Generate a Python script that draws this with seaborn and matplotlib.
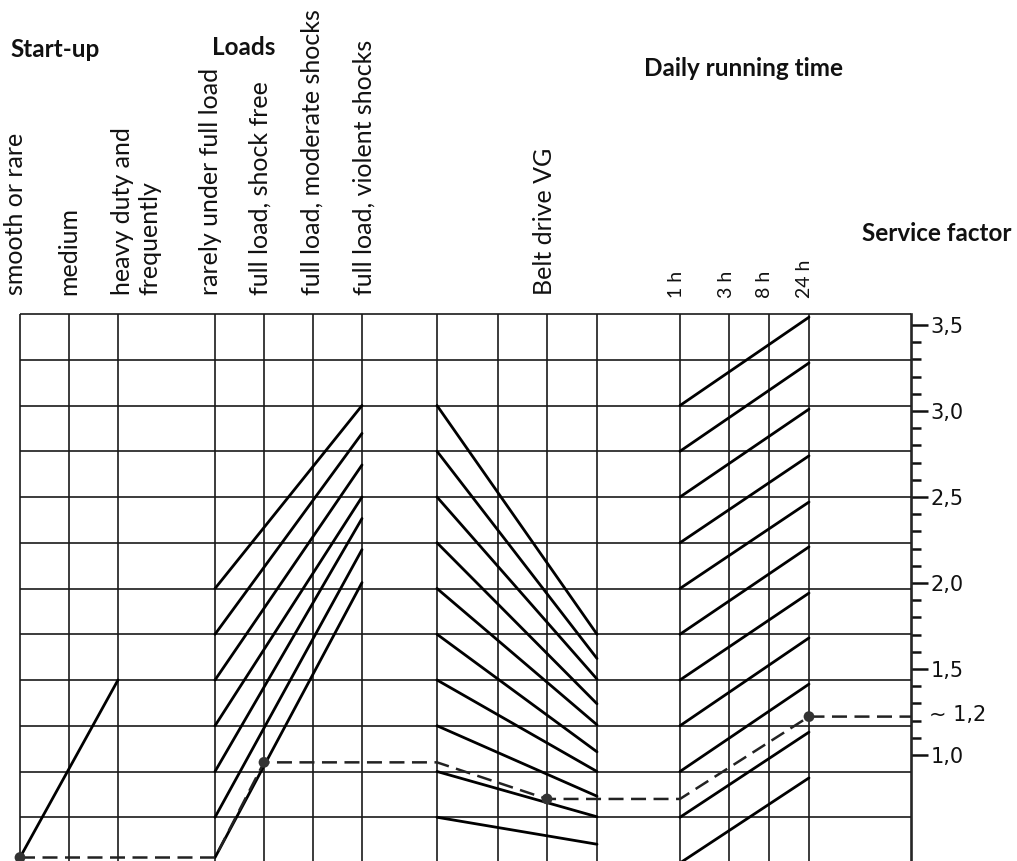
import numpy as np
import pandas as pd
import matplotlib
matplotlib.use("Agg")
import matplotlib.pyplot as plt
from matplotlib.ticker import FixedLocator
import seaborn as sns

# ---------------- data ----------------
startup_labels = ["smooth or rare", "medium", "heavy duty and\nfrequently"]
load_labels = ["rarely under full load", "full load, shock free",
               "full load, moderate shocks", "full load, violent shocks"]
belt_label = "Belt drive VG"
hour_labels = ["1 h", "3 h", "8 h", "24 h"]
section_titles = ["Start-up", "Loads", "Daily running time", "Service factor"]

# line levels in grid rows (0 = bottom row line, 12 = top line)
startup_start = [0.12]
startup_end = [4.0]
loads_start = [0.12, 1, 2, 3, 4, 5, 6]
loads_end = [6.13, 6.85, 7.53, 8.00, 8.70, 9.39, 10.0]
belt_start = [1, 2, 3, 4, 5, 6, 7, 8, 9, 10]
belt_end = [0.41, 1.01, 1.46, 2.00, 2.43, 3.02, 3.48, 4.02, 4.47, 5.00]
daily_start = [0, 1, 2, 3, 4, 5, 6, 7, 8, 9, 10]
daily_end = [1.86, 2.86, 3.91, 4.92, 5.90, 6.91, 7.89, 8.90, 9.92, 10.93, 11.93]

# worked example (dashed path), levels in grid rows
example_level = [0.12, 0.12, 2.2, 2.2, 1.4, 1.4, 3.2, 3.2]
example_dots = [0, 2, 4, 6]
example_result = "~ 1,2"

# service-factor scale
sf_major = [1.0, 1.5, 2.0, 2.5, 3.0, 3.5]
sf_major_labels = ["1,0", "1,5", "2,0", "2,5", "3,0", "3,5"]
sf_minor = [1.1, 1.2, 1.3, 1.4, 1.6, 1.7, 1.8, 1.9, 2.1, 2.2, 2.3, 2.4,
            2.6, 2.7, 2.8, 2.9, 3.1, 3.2, 3.3, 3.4]

# ---------------- layout ----------------
W, H = 1017, 861
grid_x = [20, 69, 118, 215, 264, 313, 362, 437, 498, 547, 597, 680, 729, 769, 809]
axis_x = 911
n_rows = 12
ROW0_PX, ROW_PX = 863.0, 45.75          # pixel row of level 0, pixels per row


def lvl(py):
    """pixel row -> grid level (layout helper for text placement)"""
    return (ROW0_PX - py) / ROW_PX


SF_A, SF_B = -1.399, 3.760               # level = A + B * service factor


def k2v(k):
    return (np.asarray(k) - SF_A) / SF_B


def v2k(v):
    return SF_A + SF_B * np.asarray(v)


sns.set_style("white")
plt.rcParams["font.family"] = ["Lato", "DejaVu Sans"]

fig = plt.figure(figsize=(W / 100, H / 100), dpi=100)
ax = fig.add_axes([0, 0, 1, 1])
ax.set_xlim(0, W)
ax.set_ylim(lvl(H), lvl(0))

# grid
ax.vlines(grid_x, lvl(H) - 0.5, n_rows, color="#1a1a1a", lw=1.2, zorder=1)
ax.hlines(np.arange(0, n_rows + 1), grid_x[0], axis_x, color="#1a1a1a", lw=1.2, zorder=1)

# nomogram lines
rows = []
sid = 0
for (x0, x1), starts, ends in [((grid_x[0], grid_x[2]), startup_start, startup_end),
                               ((grid_x[3], grid_x[6]), loads_start, loads_end),
                               ((grid_x[7], grid_x[10]), belt_start, belt_end),
                               ((grid_x[11], grid_x[14]), daily_start, daily_end)]:
    for s, e in zip(starts, ends):
        rows.append({"x": x0, "level": s, "seg": sid})
        rows.append({"x": x1, "level": e, "seg": sid})
        sid += 1
lines_df = pd.DataFrame(rows)
sns.lineplot(data=lines_df, x="x", y="level", units="seg", estimator=None,
             sort=False, color="black", lw=2.0, legend=False, ax=ax, zorder=3)

# worked example
example_x = [grid_x[0], grid_x[3], grid_x[4], grid_x[7], grid_x[9],
             grid_x[11], grid_x[14], axis_x]
ex_df = pd.DataFrame({"x": example_x, "level": example_level})
sns.lineplot(data=ex_df, x="x", y="level", sort=False, estimator=None, color="#222222",
             lw=1.8, dashes=False, ax=ax, zorder=4, linestyle=(0, (6, 3)))
sns.scatterplot(data=ex_df.iloc[example_dots], x="x", y="level", color="#333333",
                s=60, edgecolor="none", ax=ax, zorder=5, legend=False)

ax.set_xlabel("")
ax.set_ylabel("")
ax.set_xticks([])
ax.set_yticks([])
for sp in ax.spines.values():
    sp.set_visible(False)

# service factor axis
sec = ax.secondary_yaxis(axis_x / W, functions=(k2v, v2k))
sec.set_yticks(sf_major, labels=sf_major_labels)
sec.yaxis.set_minor_locator(FixedLocator(sf_minor))
sec.tick_params(axis="y", which="major", length=12, width=1.8, pad=2,
                labelsize=15, colors="#111111")
sec.tick_params(axis="y", which="minor", length=7, width=1.8, colors="#111111")
for lab in sec.get_yticklabels():
    lab.set_fontfamily("DejaVu Sans")
sec.spines["right"].set_linewidth(1.9)
sec.spines["right"].set_bounds(float(k2v(lvl(H) - 0.5)), float(k2v(n_rows)))
ax.text(929, example_level[-1] + 0.04, example_result, fontsize=15, family="DejaVu Sans",
        ha="left", va="center", color="#111111")

# column labels (rotated)
lab_bottom = lvl(295)
lab_fs = 18
col_label_x = [16, 69, 136, 210, 260, 312, 364]
for xc, t in zip(col_label_x, startup_labels + load_labels):
    ax.text(xc, lab_bottom, t, rotation=90, ha="center", va="bottom", fontsize=lab_fs,
            linespacing=1.2, multialignment="left", color="#111111")
ax.text(544, lab_bottom, belt_label, rotation=90, ha="center", va="bottom",
        fontsize=lab_fs, color="#111111")
for xc, t in zip([676, 726, 765, 805], hour_labels):
    ax.text(xc, lvl(298), t, rotation=90, ha="center", va="bottom", fontsize=14,
            color="#111111")

# section titles
for (xl, yb), t in zip([(10, 57), (212, 55), (644, 76), (862, 241)], section_titles):
    ax.text(xl, lvl(yb), t, ha="left", va="baseline", fontsize=17.5,
            fontweight="bold", color="#111111")

fig.savefig("out.png", dpi=100)
